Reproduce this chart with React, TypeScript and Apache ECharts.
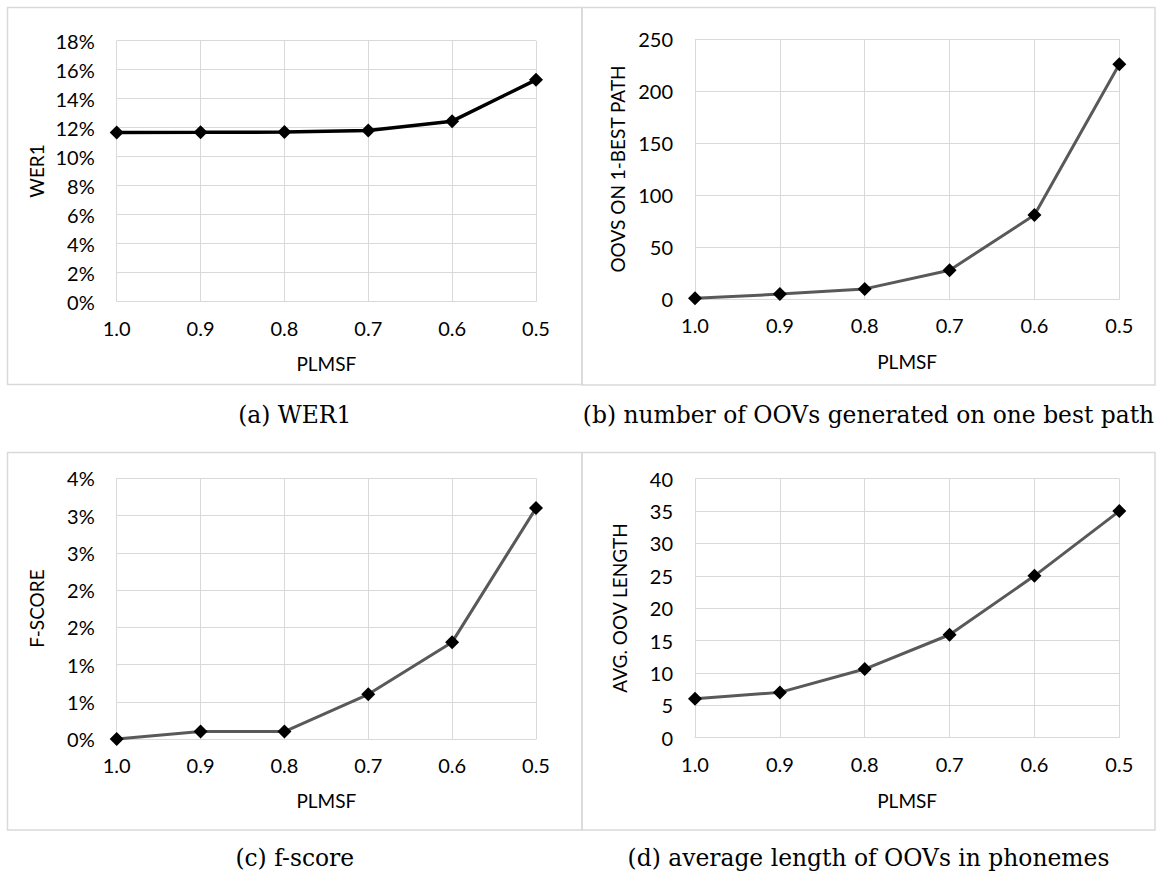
import React, { useEffect, useRef } from "react";
import * as echarts from "echarts";

const plmsf = ["1.0", "0.9", "0.8", "0.7", "0.6", "0.5"];
const wer1 = [11.67, 11.68, 11.7, 11.8, 12.45, 15.3];
const oovs = [1, 5, 10, 28, 81, 226];
const fscore = [0, 0.1, 0.1, 0.6, 1.3, 3.1];
const avgLen = [6, 7, 10.6, 15.9, 25, 35];

const yTitles = ["WER1", "OOVS ON 1-BEST PATH", "F-SCORE", "AVG. OOV LENGTH"];
const xTitle = "PLMSF";
const captions = [
  "(a) WER1",
  "(b) number of OOVs generated on one best path",
  "(c) f-score",
  "(d) average length of OOVs in phonemes",
];

const GRID = "#d9d9d9";
const LABEL_FONT = "Lato";

export default function App() {
  const ref = useRef<HTMLDivElement>(null);
  useEffect(() => {
    document.body.style.margin = "0";
    const chart = echarts.init(ref.current!, null, { renderer: "svg" });

    const grids = [
      { left: 116.7, top: 40.7, width: 419.3, height: 261 },
      { left: 695, top: 39.3, width: 424.3, height: 260 },
      { left: 116.7, top: 478.3, width: 419.3, height: 260.7 },
      { left: 695, top: 478.7, width: 424.3, height: 259 },
    ];
    const yCfg = [
      { max: 18, interval: 2, fmt: (v: number) => v + "%" },
      { max: 250, interval: 50, fmt: (v: number) => String(v) },
      { max: 3.5, interval: 0.5, fmt: (v: number) => Math.round(v) + "%" },
      { max: 40, interval: 5, fmt: (v: number) => String(v) },
    ];
    const series = [wer1, oovs, fscore, avgLen];
    const lineColors = ["#000000", "#595959", "#595959", "#595959"];
    const lineWidths = [3.5, 3, 3, 3];

    const panels = [
      { x: 7.5, y: 7.5, w: 574.5, h: 377 },
      { x: 582, y: 7.5, w: 573, h: 377.5 },
      { x: 7.5, y: 452.5, w: 574.5, h: 377.5 },
      { x: 582, y: 452.5, w: 573, h: 377.5 },
    ];
    const yTitlePos = [
      { x: 36, y: 171 },
      { x: 617, y: 169 },
      { x: 36, y: 608.5 },
      { x: 619, y: 608 },
    ];
    const xTitleY = [363, 361, 800, 800];
    const captionY = [415, 415, 858, 858];

    const graphic: any[] = [];
    panels.forEach((p, i) => {
      graphic.push({
        type: "rect",
        shape: { x: p.x, y: p.y, width: p.w, height: p.h },
        style: { fill: "none", stroke: GRID, lineWidth: 1.5 },
        silent: true,
      });
      const g = grids[i];
      graphic.push({
        type: "text",
        x: yTitlePos[i].x,
        y: yTitlePos[i].y,
        rotation: Math.PI / 2,
        style: {
          text: yTitles[i],
          font: `19px ${LABEL_FONT}`,
          fill: "#000",
          textAlign: "center",
          textVerticalAlign: "middle",
        },
      });
      graphic.push({
        type: "text",
        x: g.left + g.width / 2,
        y: xTitleY[i],
        style: {
          text: xTitle,
          font: `19px ${LABEL_FONT}`,
          fill: "#000",
          textAlign: "center",
          textVerticalAlign: "middle",
        },
      });
      graphic.push({
        type: "text",
        x: p.x + p.w / 2,
        y: captionY[i],
        style: {
          text: captions[i],
          font: `23.4px "DejaVu Serif"`,
          fill: "#000",
          textAlign: "center",
          textVerticalAlign: "middle",
        },
      });
    });

    chart.setOption({
      animation: false,
      backgroundColor: "#ffffff",
      grid: grids.map((g) => ({ ...g, containLabel: false })),
      xAxis: grids.map((_, i) => ({
        type: "category",
        gridIndex: i,
        data: plmsf,
        boundaryGap: false,
        axisLine: { show: true, lineStyle: { color: GRID, width: 1 } },
        axisTick: { show: false },
        axisLabel: {
          color: "#000",
          fontFamily: LABEL_FONT,
          fontSize: 20,
          margin: 16,
        },
        splitLine: { show: true, lineStyle: { color: GRID, width: 1 } },
      })),
      yAxis: yCfg.map((c, i) => ({
        type: "value",
        gridIndex: i,
        min: 0,
        max: c.max,
        interval: c.interval,
        axisLine: { show: false },
        axisTick: { show: false },
        axisLabel: {
          color: "#000",
          fontFamily: LABEL_FONT,
          fontSize: 20,
          margin: 22,
          formatter: c.fmt,
        },
        splitLine: { show: true, lineStyle: { color: GRID, width: 1 } },
      })),
      series: series.map((d, i) => ({
        type: "line",
        xAxisIndex: i,
        yAxisIndex: i,
        data: d,
        symbol: "diamond",
        symbolSize: 14,
        itemStyle: { color: "#000" },
        lineStyle: { color: lineColors[i], width: lineWidths[i] },
        z: 5,
      })),
      graphic,
    });
    return () => chart.dispose();
  }, []);
  return <div ref={ref} style={{ width: 1158, height: 876 }} />;
}
